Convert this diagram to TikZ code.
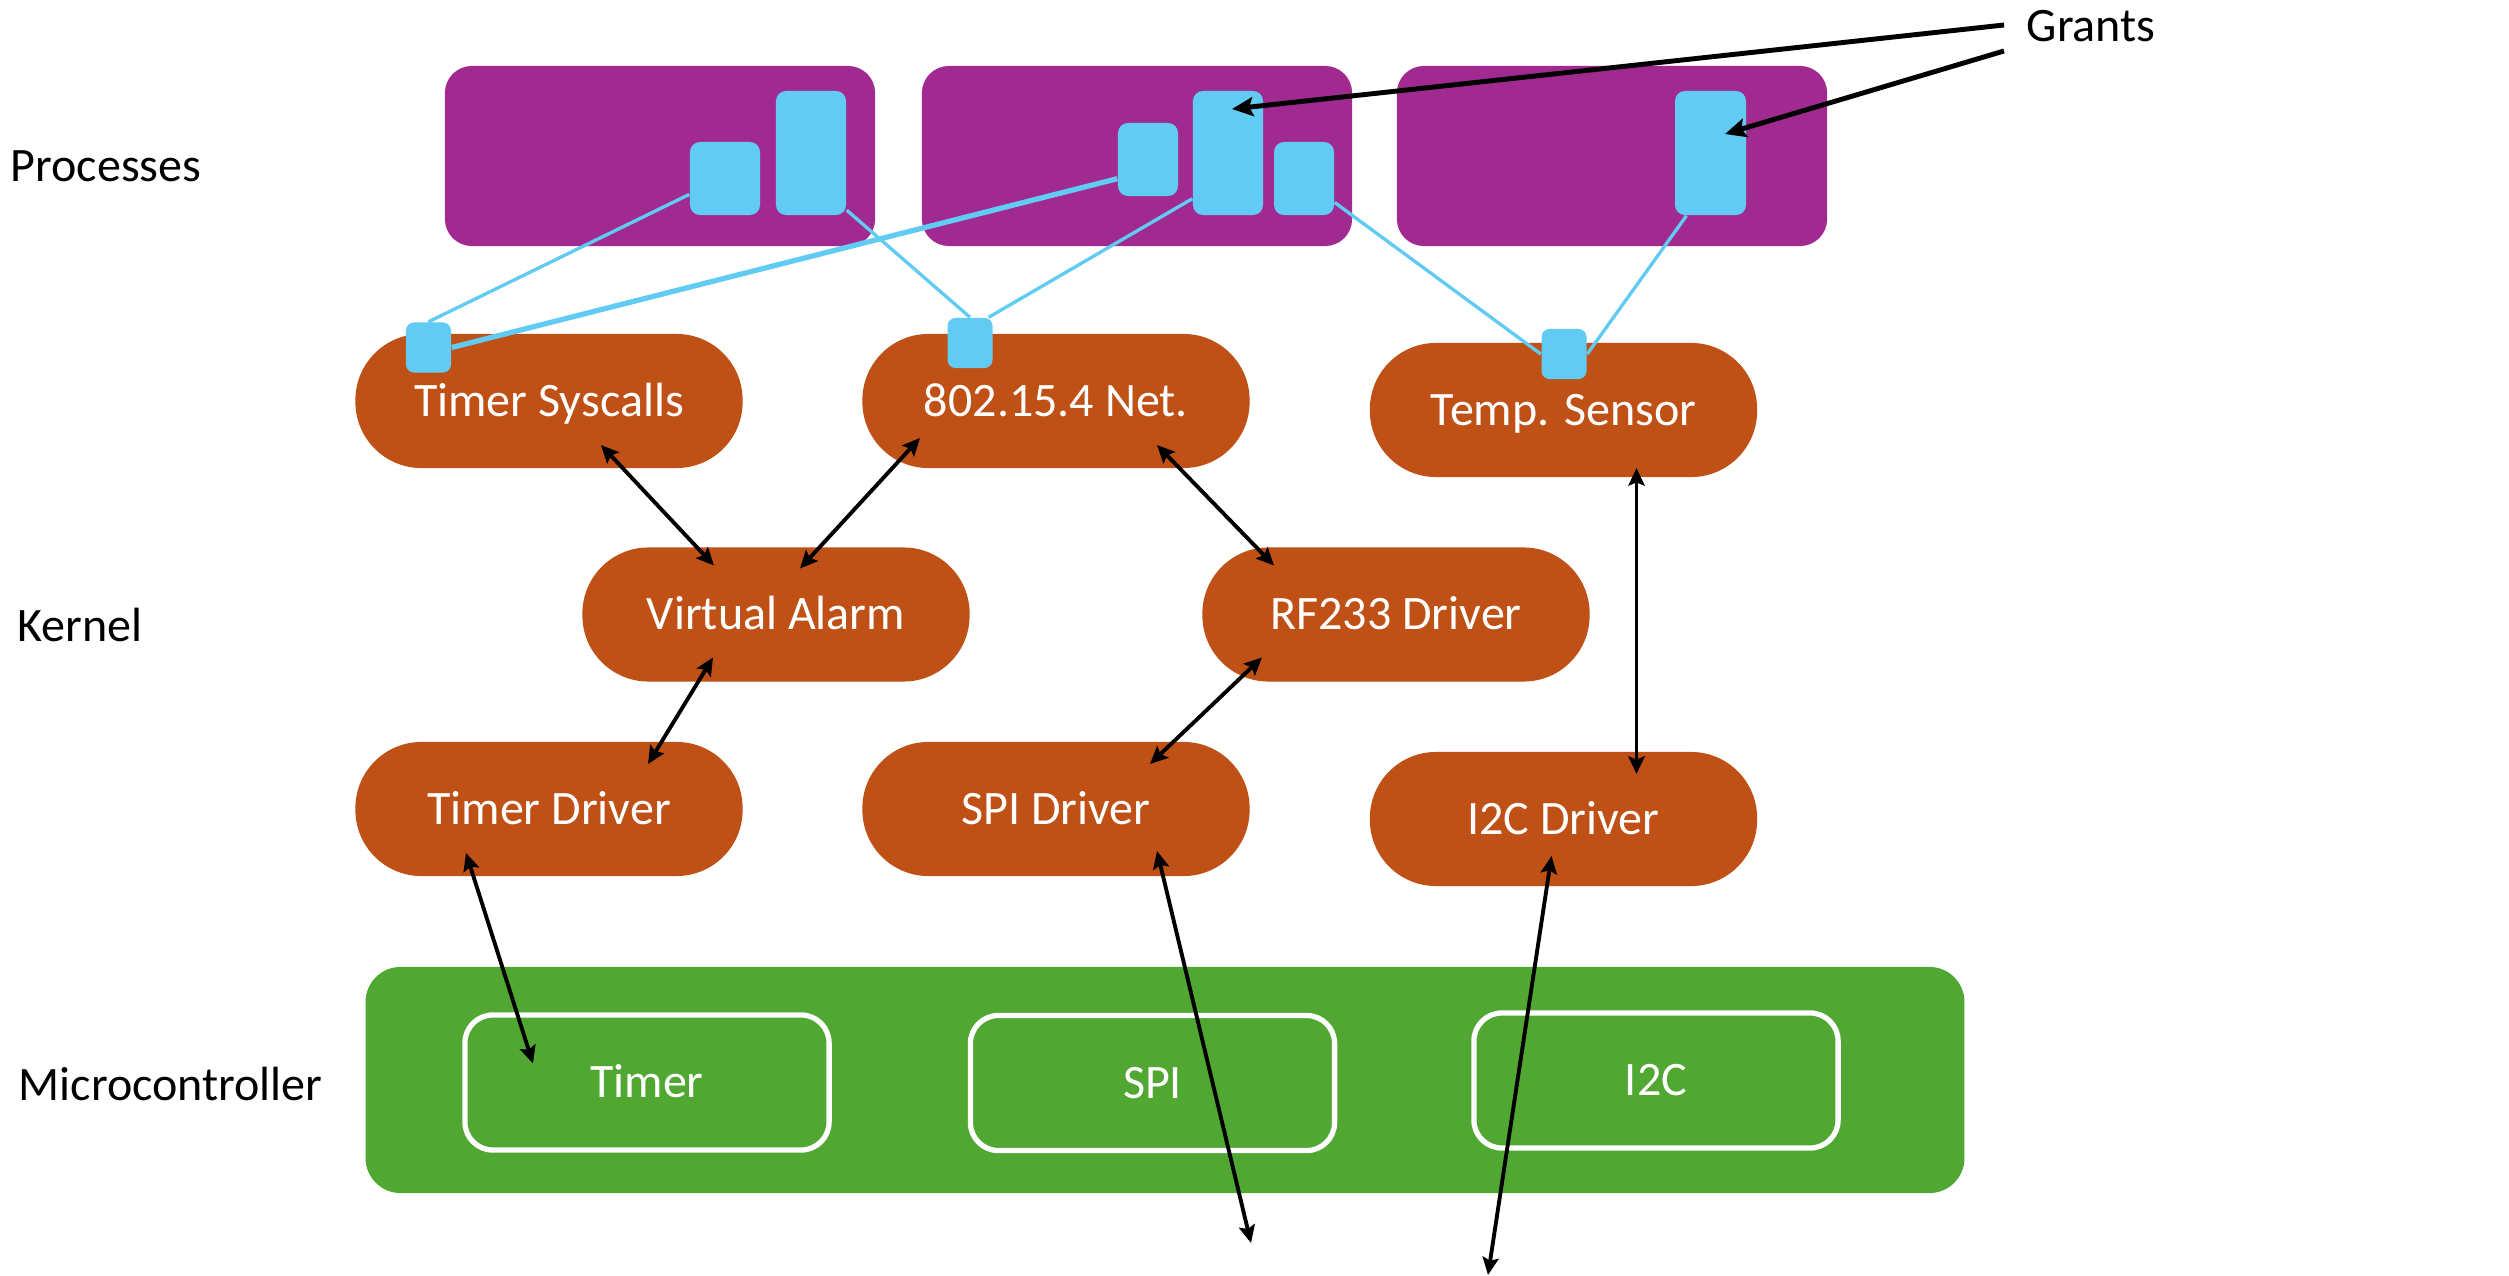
\documentclass[tikz,border=0pt]{standalone}
\usepackage{fontspec}
\setmainfont{Carlito}
\usetikzlibrary{arrows.meta,calc}

\definecolor{procpurple}{RGB}{160,42,143}
\definecolor{kernorange}{RGB}{191,80,22}
\definecolor{grantblue}{RGB}{98,203,243}
\definecolor{mcugreen}{RGB}{80,167,50}

\pgfdeclarelayer{back}
\pgfdeclarelayer{links}
\pgfsetlayers{back,links,main}

\begin{document}
\begin{tikzpicture}[x=0.01cm,y=-0.01cm,
  every node/.style={font=\fontsize{13.66}{16}\selectfont},
  layerlabel/.style={anchor=base west, inner sep=0pt, text=black},
  process/.style={fill=procpurple, rounded corners=0.27cm, minimum width=4.30cm, minimum height=1.80cm, inner sep=0pt},
  grant/.style={fill=grantblue, rounded corners=0.1cm, inner sep=0pt},
  port/.style={fill=grantblue, rounded corners=0.08cm, inner sep=0pt, minimum width=0.45cm, minimum height=0.50cm},
  capsule/.style={fill=kernorange, rounded corners=0.66cm, minimum width=3.87cm, minimum height=1.34cm, text=white, text height=0.309cm, text depth=0pt, inner sep=0pt},
  mcu/.style={fill=mcugreen, rounded corners=0.35cm, minimum width=15.98cm, minimum height=2.26cm, inner sep=0pt},
  periph/.style={draw=white, line width=1.5pt, rounded corners=0.28cm, minimum width=3.64cm, minimum height=1.35cm, text=white, text height=0.309cm, text depth=0pt, inner sep=0pt},
  grantlink/.style={draw=grantblue, line width=0.95pt},
  deptip/.tip={Stealth[length=5pt,width=4.6pt,inset=0.9pt]},
  dep/.style={draw=black, line width=1.1pt, deptip-deptip},
  pointer/.style={draw=black, line width=1.4pt, -{Stealth[length=6pt,width=5.4pt,inset=1.1pt]}},
]
\useasboundingbox (0,0) rectangle (2509,1276);

% layer captions
\node[layerlabel] (lproc) at (10,182) {Processes};
\node[layerlabel] (lkern) at (17,641) {Kernel};
\node[layerlabel] (lmcu) at (18,1100) {Microcontroller};
\node[layerlabel] (lgrants) at (2026,42) {Grants};

\begin{pgfonlayer}{back}
  % processes
  \node[process] (p1) at (660,156) {};
  \node[process] (p2) at (1137,156) {};
  \node[process] (p3) at (1612,156) {};

  % kernel capsules
  \node[capsule] (ts) at (549,401) {Timer Syscalls};
  \node[capsule] (net) at (1056,401) {802.15.4 Net.};
  \node[capsule] (temp) at (1563.5,410) {Temp. Sensor};
  \node[capsule] (va) at (776,614.5) {Virtual Alarm};
  \node[capsule] (rf) at (1396,614.5) {RF233 Driver};
  \node[capsule] (td) at (549,809) {Timer Driver};
  \node[capsule] (spi) at (1056,809) {SPI Driver};
  \node[capsule] (i2c) at (1563.5,819) {I2C Driver};

  % microcontroller and its peripherals
  \node[mcu] (mcu) at (1165,1080) {};
  \node[periph] (hwtimer) at (647,1082.5) {Timer};
  \node[periph] (hwspi) at (1152.5,1083) {SPI};
  \node[periph] (hwi2c) at (1656,1080.5) {I2C};
\end{pgfonlayer}

% grant regions inside the processes
\node[grant, minimum width=0.70cm, minimum height=0.73cm] (g1a) at (725,178.5) {};
\node[grant, minimum width=0.70cm, minimum height=1.24cm] (g1b) at (811,153) {};
\node[grant, minimum width=0.60cm, minimum height=0.73cm] (g2a) at (1148,159.5) {};
\node[grant, minimum width=0.70cm, minimum height=1.24cm] (g2b) at (1228,153) {};
\node[grant, minimum width=0.60cm, minimum height=0.73cm] (g2c) at (1304,178.5) {};
\node[grant, minimum width=0.71cm, minimum height=1.24cm] (g3) at (1710.5,153) {};

% grant ports on the capsules
\node[port] (port1) at (428.5,347.5) {};
\node[port] (port2) at (970,343) {};
\node[port] (port3) at (1564,354) {};

% grant links
\begin{pgfonlayer}{links}
  \draw[grantlink] (port1.north) -- (g1a.204);
  \draw[grantlink, line width=1.5pt] (port1.east) -- (g2a.212);
  \draw[grantlink] (port2.north) -- (g1b.-58);
  \draw[grantlink] (port2.54) -- (g2b.232);
  \draw[grantlink] (g2c.-38) -- (port3.west);
  \draw[grantlink] (g3.249) -- (port3.east);
\end{pgfonlayer}

% kernel dependencies
\draw[dep] ($(ts.center)+(52,44)$) -- ($(va.center)+(-62,-49)$);
\draw[dep] ($(net.center)+(-136,37)$) -- ($(va.center)+(24,-46)$);
\draw[dep] ($(net.center)+(101,44)$) -- ($(rf.center)+(-122,-49)$);
\draw[dep] ($(va.center)+(-63,43)$) -- ($(td.center)+(99,-45)$);
\draw[dep] ($(rf.center)+(-134,43)$) -- ($(spi.center)+(94,-45)$);
\draw[dep] ($(temp.center)+(73,58)$) -- ($(i2c.center)+(73,-45)$);
\draw[dep] ($(td.center)+(-83,44)$) -- ($(hwtimer.center)+(-114,-19)$);

\coordinate (spiout) at (1251,1243);
\coordinate (i2cout) at (1488,1275);
\draw[dep] ($(spi.center)+(101,42)$) -- (spiout);
\draw[dep] ($(i2c.center)+(-12,37)$) -- (i2cout);

% grant callouts
\coordinate (gr1) at (2004,25);
\coordinate (gr2) at (2004,51);
\draw[pointer] (gr1) -- ($(g2b.center)+(4,-44)$);
\draw[pointer] (gr2) -- ($(g3.center)+(14.5,-19)$);
\end{tikzpicture}
\end{document}
